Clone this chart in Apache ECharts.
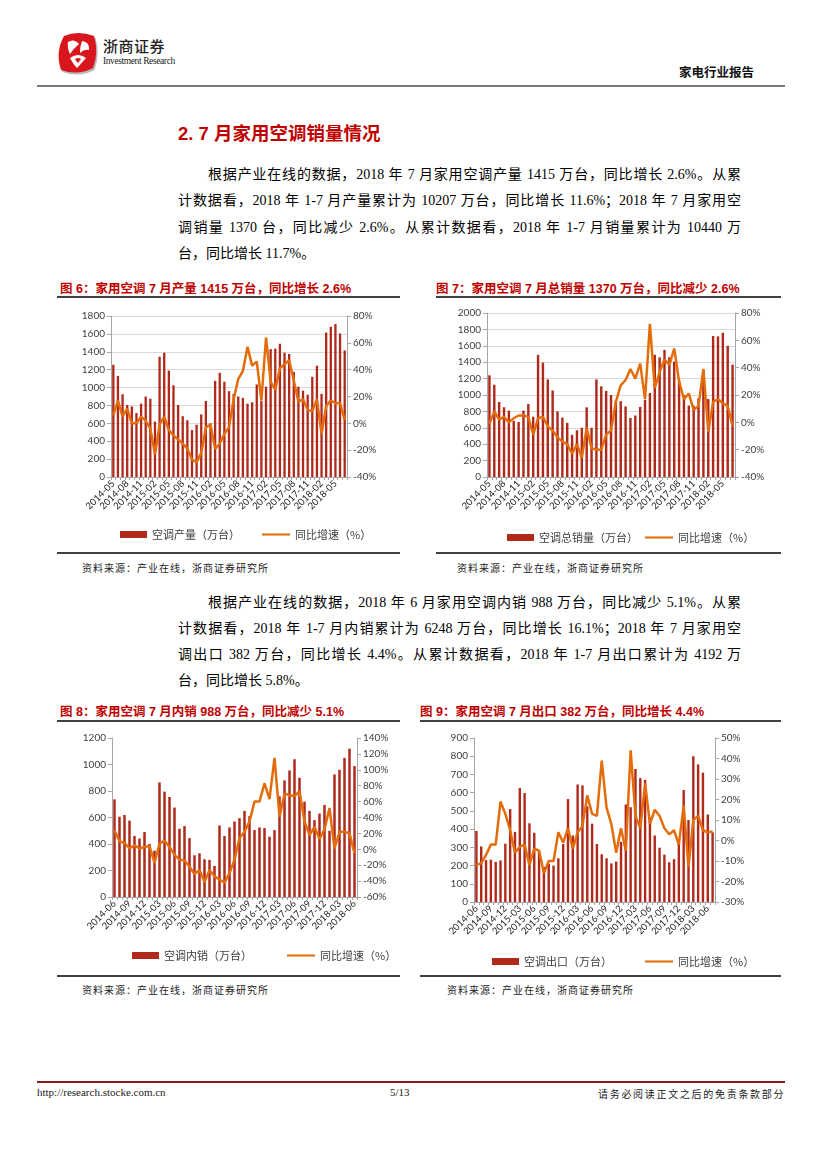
<!DOCTYPE html>
<html><head><meta charset="utf-8">
<script src="https://cdn.jsdelivr.net/npm/echarts@6/dist/echarts.min.js"></script>
<style>
html,body{margin:0;padding:0;background:#fff;}
body{width:827px;height:1169px;position:relative;overflow:hidden;font-family:"Liberation Serif","Noto Sans CJK SC",serif;color:#000;}
.a{position:absolute;white-space:nowrap;}
.p{position:absolute;font-size:14px;line-height:18px;text-align:justify;text-align-last:justify;white-space:nowrap;}
.p.last{text-align-last:left;}
.ft{position:absolute;font-family:"Liberation Sans","Noto Sans CJK SC",sans-serif;font-weight:bold;font-size:12.5px;color:#C00000;white-space:nowrap;}
.hl{position:absolute;background:#404040;height:1.5px;}
.src{position:absolute;font-size:10px;letter-spacing:1px;color:#222;white-space:nowrap;}
.ch{position:absolute;}
</style></head>
<body>
<!-- header -->
<svg class="a" style="left:52px;top:28px" width="50" height="50" viewBox="0 0 50 50">
  <path d="M12 8 Q26 2 42 8 Q47 24 41 40 Q26 48 9 42 Q3 24 12 8Z" fill="#bbb" transform="translate(1.5,2)"/>
  <path d="M12 8 Q26 2 42 8 Q47 24 41 40 Q26 48 9 42 Q3 24 12 8Z" fill="#d8161d"/>
  <path d="M16 14 Q22 10 27 16 Q22 20 18 26 Q15 20 16 14Z" fill="#fff"/>
  <path d="M30 13 Q38 14 37 22 Q32 21 28 25 Q28 18 30 13Z" fill="#fff"/>
  <path d="M18 30 Q26 24 34 30 Q27 38 25 40 Q21 36 18 30Z" fill="#fff"/>
  <path d="M23 31 Q26 29 29 31 Q26 35 26 35 Q24 33 23 31Z" fill="#d8161d"/>
</svg>
<div class="a" style="left:103px;top:35px;font-family:'Noto Sans CJK SC';font-size:15px;font-weight:500;letter-spacing:0.5px;color:#222;">浙商证券</div>
<div class="a" style="left:103px;top:56px;font-size:9.5px;letter-spacing:-0.4px;color:#222;font-family:'Liberation Serif';">Investment Research</div>
<div class="a" style="left:679px;top:62px;font-family:'Noto Sans CJK SC';font-weight:bold;font-size:12.5px;color:#111;">家电行业报告</div>
<div class="a" style="left:37px;top:85px;width:748px;height:2px;background:#777;"></div>

<!-- title -->
<div class="a" style="left:178px;top:119px;font-family:'Liberation Sans','Noto Sans CJK SC';font-weight:bold;font-size:18.5px;color:#C00000;">2. 7 月家用空调销量情况</div>

<!-- paragraph 1 -->
<div class="p" style="left:208px;top:166px;width:533px;">根据产业在线的数据，2018 年 7 月家用空调产量 1415 万台，同比增长 2.6%。从累</div>
<div class="p" style="left:178px;top:192px;width:563px;">计数据看，2018 年 1-7 月产量累计为 10207 万台，同比增长 11.6%；2018 年 7 月家用空</div>
<div class="p" style="left:178px;top:219px;width:563px;">调销量 1370 台，同比减少 2.6%。从累计数据看，2018 年 1-7 月销量累计为 10440 万</div>
<div class="p last" style="left:178px;top:245px;">台，同比增长 11.7%。</div>

<div class="ft" style="left:60px;top:278px;">图 6：家用空调 7 月产量 1415 万台，同比增长 2.6%</div>
<div class="ft" style="left:436px;top:278px;">图 7：家用空调 7 月总销量 1370 万台，同比减少 2.6%</div>
<div class="hl" style="left:57px;top:296px;width:343px;"></div>
<div class="hl" style="left:436px;top:296px;width:345px;"></div>

<div id="c6" class="ch" style="left:55px;top:300px;width:350px;height:250px;"></div>
<div id="c7" class="ch" style="left:430px;top:300px;width:355px;height:250px;"></div>

<div class="hl" style="left:57px;top:552px;width:343px;"></div>
<div class="hl" style="left:436px;top:552px;width:345px;"></div>
<div class="src" style="left:82px;top:560px;">资料来源：产业在线，浙商证券研究所</div>
<div class="src" style="left:457px;top:560px;">资料来源：产业在线，浙商证券研究所</div>

<!-- paragraph 2 -->
<div class="p" style="left:208px;top:594px;width:533px;">根据产业在线的数据，2018 年 6 月家用空调内销 988 万台，同比减少 5.1%。从累</div>
<div class="p" style="left:178px;top:620px;width:563px;">计数据看，2018 年 1-7 月内销累计为 6248 万台，同比增长 16.1%；2018 年 7 月家用空</div>
<div class="p" style="left:178px;top:646px;width:563px;">调出口 382 万台，同比增长 4.4%。从累计数据看，2018 年 1-7 月出口累计为 4192 万</div>
<div class="p last" style="left:178px;top:672px;">台，同比增长 5.8%。</div>

<div class="ft" style="left:60px;top:701px;">图 8：家用空调 7 月内销 988 万台，同比减少 5.1%</div>
<div class="ft" style="left:420px;top:701px;">图 9：家用空调 7 月出口 382 万台，同比增长 4.4%</div>
<div class="hl" style="left:57px;top:720px;width:343px;"></div>
<div class="hl" style="left:420px;top:720px;width:361px;"></div>

<div id="c8" class="ch" style="left:55px;top:722px;width:350px;height:250px;"></div>
<div id="c9" class="ch" style="left:430px;top:722px;width:355px;height:250px;"></div>

<div class="hl" style="left:57px;top:975px;width:343px;"></div>
<div class="hl" style="left:420px;top:975px;width:361px;"></div>
<div class="src" style="left:82px;top:982px;">资料来源：产业在线，浙商证券研究所</div>
<div class="src" style="left:447px;top:982px;">资料来源：产业在线，浙商证券研究所</div>

<!-- footer -->
<div class="a" style="left:37px;top:1081px;width:748px;height:1.5px;background:#8B1A1A;"></div>
<div class="a" style="left:37px;top:1086px;font-size:11px;font-family:'Liberation Serif';color:#222;">http://research.stocke.com.cn</div>
<div class="a" style="left:390px;top:1086px;font-size:11px;font-family:'Liberation Serif';color:#222;">5/13</div>
<div class="a" style="left:598px;top:1086px;font-size:10px;letter-spacing:1.7px;color:#222;">请务必阅读正文之后的免责条款部分</div>

<script>
// ---------- data ----------
function months(y, m, n){var a=[];for(var i=0;i<n;i++){var mm=m+i;var yy=y+Math.floor((mm-1)/12);var k=((mm-1)%12)+1;a.push(yy+'-'+(k<10?'0'+k:k));}return a;}
var months6 = months(2014,5,51);   // 2014-05 .. 2018-07
var months8 = months(2014,6,49);   // 2014-06 .. 2018-06
var months9 = months(2014,6,50);   // 2014-06 .. 2018-07

var prodValues = [1255,1130,925,805,790,715,820,900,875,620,1345,1390,1190,1025,805,680,635,525,585,700,850,600,1075,1165,1065,960,930,900,885,820,835,1035,850,1010,1430,1435,1490,1390,1375,1175,1010,965,920,1120,1245,930,1615,1680,1710,1605,1415];
var prodYoY = [6,17,5,11,0,0,5,2,-4,-23,-1,5,-5,-9,-12,-15,-19,-27,-29,-22,-3,-1,-19,-15,-8,-3,18,33,39,57,43,46,17,64,31,25,41,44,47,32,16,18,10,9,18,-8,13,17,15,15,2.6];

var salesValues = [1240,1125,915,850,810,685,670,810,890,735,1490,1395,1190,1055,800,725,660,515,570,600,850,600,1190,1105,1050,1000,930,925,860,720,750,855,940,1025,1490,1460,1550,1460,1407,1180,1000,870,870,960,1310,950,1720,1715,1760,1600,1370];
var salesYoY = [-1,8,2,4,0,3,5,5,4,-9,3,4,-3,-6,-11,-14,-16,-23,-16,-26,-4,-19,-20,-20,-9,-6,15,27,31,39,32,43,17,72,25,37,46,42,54,30,17,21,9,12,39,-7,15,17,14,12,-2.6];

var domValues = [737,606,619,576,461,441,491,400,350,865,795,755,675,515,535,445,315,330,285,280,235,540,460,525,570,595,650,610,505,525,520,455,505,760,880,955,1040,900,720,650,580,630,695,500,925,960,1050,1120,988];
var domYoY = [24,10,8,1,5,1,3,4,-17,7,11,3,-7,-13,-14,-22,-31,-26,-41,-26,-34,-38,-42,-30,-13,14,22,35,60,60,83,63,115,41,70,68,67,73,35,18,28,13,25,52,1,22,22,20,-5];

var expValues = [390,305,230,232,220,228,320,510,385,625,598,432,380,282,193,210,200,240,318,565,365,645,640,525,430,318,262,240,212,222,330,535,520,730,680,670,465,365,298,260,218,235,323,615,450,800,755,710,480,382];
var expYoY = [-12,-11,-7,-2,-2,19,13,5,-6,-3,-2,-12,-4,-5,-16,-10,-10,4,-1,6,-4,4,7,22,13,12,39,16,8,-6,6,-5,44,12,6,28,8,15,12,6,3,5,-2,17,-13,10,12,5,4,4.4];

var leftTicks6 = {min:0,max:1800,interval:200}, rightTicks6 = {min:-40,max:80,interval:20};
var leftTicks7 = {min:0,max:2000,interval:200}, rightTicks7 = {min:-40,max:80,interval:20};
var leftTicks8 = {min:0,max:1200,interval:200}, rightTicks8 = {min:-60,max:140,interval:20};
var leftTicks9 = {min:0,max:900,interval:100}, rightTicks9 = {min:-30,max:50,interval:10};

// ---------- chart builder ----------
var BAR='#B02A1C', LINE='#E46C0A', AX='#A6A6A6', TXT='#404040';
function build(id, cats, bars, line, barName, lineName, lt, rt, g, leg, split){
  var c = echarts.init(document.getElementById(id), null, {renderer:'canvas'});
  var lts = {fontFamily:'Noto Sans CJK SC', fontSize:11, color:TXT};
  c.setOption({
    animation:false,
    grid:{left:g[0], right:g[1], top:g[2], bottom:g[3], containLabel:false},
    legend:[
      {left:leg[0], top:leg[2], itemWidth:27, itemHeight:7, textStyle:lts, selectedMode:false,
       data:[{name:barName, icon:'rect'}]},
      {left:leg[1], top:leg[2], itemWidth:28, itemHeight:7, textStyle:lts, selectedMode:false,
       data:[{name:lineName, icon:'path://M0,0H40V3H0Z'}]}
    ],
    xAxis:{type:'category', data:cats, boundaryGap:true,
      axisLine:{lineStyle:{color:AX}}, axisTick:{show:true, interval:0, length:3, lineStyle:{color:AX}},
      axisLabel:{interval:2, rotate:45, fontSize:9.5, color:'#262626', fontFamily:'Lato', margin:5}},
    yAxis:[
      {type:'value', min:lt.min, max:lt.max, interval:lt.interval,
       axisLine:{show:true, lineStyle:{color:AX}}, axisTick:{show:true, length:4, lineStyle:{color:AX}},
       splitLine:{show:split, lineStyle:{color:'#D9D9D9'}},
       axisLabel:{fontSize:10, color:TXT, fontFamily:'Lato', margin:6, formatter:function(v){return String(v);}}},
      {type:'value', min:rt.min, max:rt.max, interval:rt.interval, position:'right',
       axisLine:{show:true, lineStyle:{color:AX}}, axisTick:{show:true, length:4, lineStyle:{color:AX}},
       splitLine:{show:false},
       axisLabel:{fontSize:10, color:TXT, fontFamily:'Lato', margin:6, formatter:'{value}%'}}
    ],
    series:[
      {name:barName, type:'bar', data:bars, barWidth:'50%', itemStyle:{color:BAR}},
      {name:lineName, type:'line', yAxisIndex:1, data:line, symbol:'none', smooth:false,
       lineStyle:{color:LINE, width:2.5}, itemStyle:{color:LINE}}
    ]
  });
}
build('c6', months6, prodValues, prodYoY, '空调产量（万台）', '同比增速（%）', leftTicks6, rightTicks6, [56,58,16,73], [60,202,224], true);
build('c7', months6, salesValues, salesYoY, '空调总销量（万台）', '同比增速（%）', leftTicks7, rightTicks7, [57,50,13,73], [72,210,227], true);
build('c8', months8, domValues, domYoY, '空调内销（万台）', '同比增速（%）', leftTicks8, rightTicks8, [57,48,16,75], [72,227,223], false);
build('c9', months9, expValues, expYoY, '空调出口（万台）', '同比增速（%）', leftTicks9, rightTicks9, [44,70,16,70], [57,210,229], false);
</script>
</body></html>
